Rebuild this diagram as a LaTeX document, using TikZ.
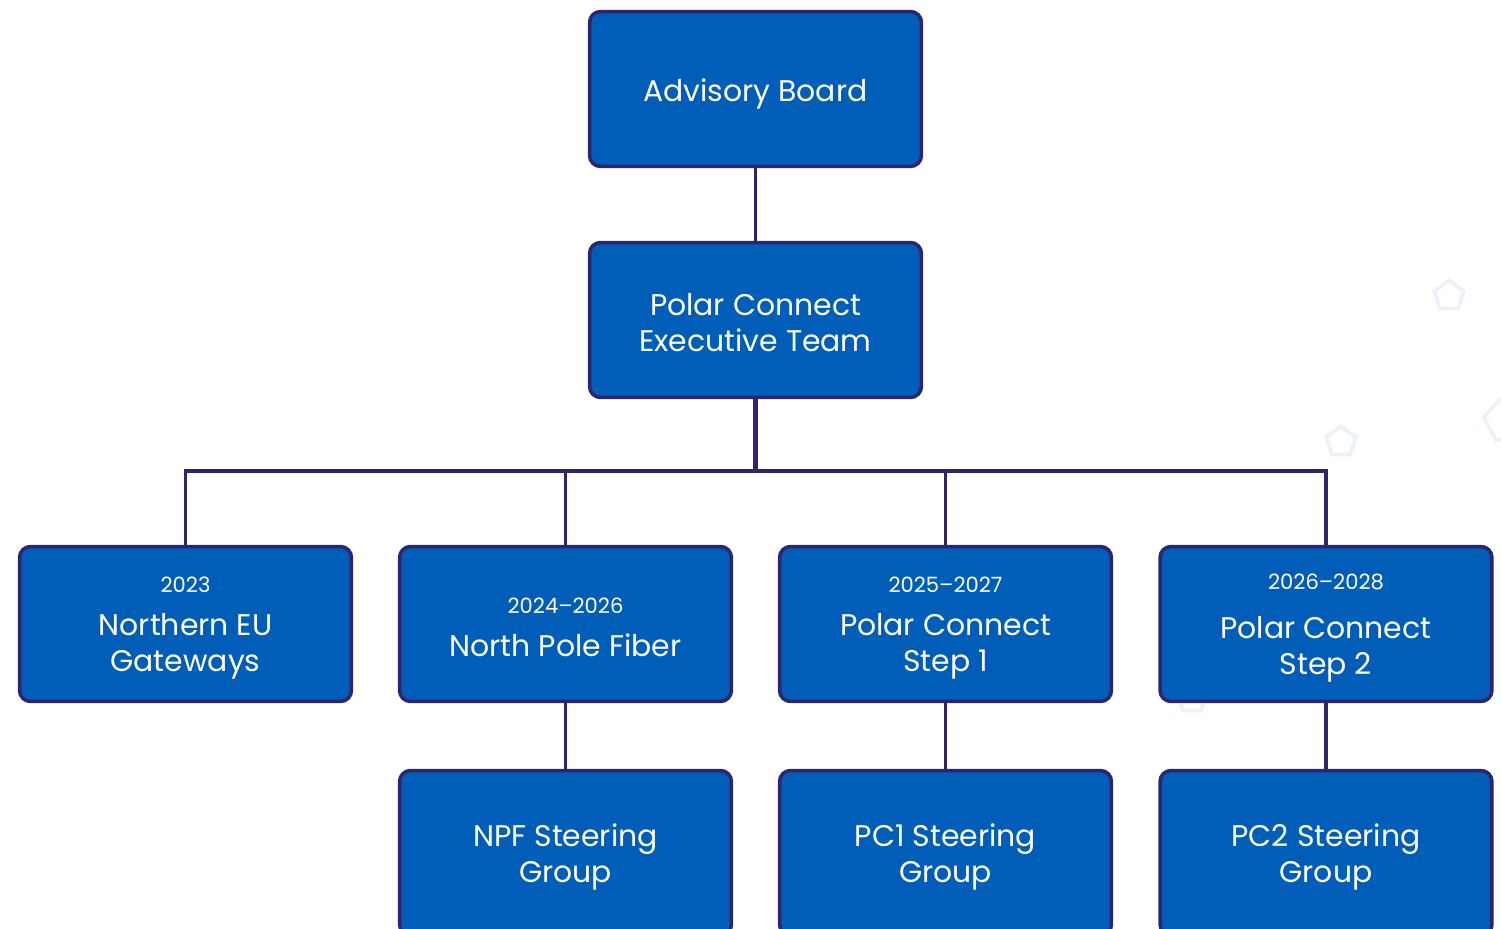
\documentclass[tikz,border=0pt]{standalone}
\usepackage{fontspec}
\setmainfont{Poppins}
\usetikzlibrary{shapes.geometric}
\definecolor{boxfill}{RGB}{0,93,184}
\definecolor{boxline}{RGB}{45,38,110}
\definecolor{deco}{RGB}{236,242,250}
\newcommand{\mainsize}{\fontsize{17}{20.5}\selectfont}
\newcommand{\yearsize}{\fontsize{12}{14}\selectfont}
\begin{document}
\begin{tikzpicture}[x=0.02cm,y=-0.02cm,
  orgbox/.style={draw=boxline, line width=2pt, fill=boxfill, rounded corners=0.22cm,
    minimum width=6.64cm, minimum height=3.1cm, inner sep=0pt},
  tallbox/.style={orgbox, minimum height=3.3cm},
  lbl/.style={align=center, text=white, font=\mainsize, inner sep=0pt},
  link/.style={draw=boxline, line width=2pt},
  trunk/.style={draw=boxline, line width=2.6pt},
  pent/.style={regular polygon, regular polygon sides=5, draw=deco, line width=2.2pt, minimum size=0.62cm, inner sep=0pt}]
\useasboundingbox (0,0) rectangle (1501,929);
\clip (0,0) rectangle (1501,929);
% faint background decorations
\node[pent] (d1) at (1449,296) {};
\node[pent] (d2) at (1341,442) {};
\node[pent, minimum size=0.9cm, rotate=10] (d3) at (1506,420) {};
\node[pent] (d4) at (1192,698) {};
% boxes
\node[orgbox] (ab) at (755.5,89) {};
\node[orgbox] (ex) at (755.5,320) {};
\node[orgbox] (n1) at (185.5,624) {};
\node[orgbox] (n2) at (565.5,624) {};
\node[orgbox] (n3) at (945.5,624) {};
\node[orgbox] (n4) at (1326,624) {};
\node[tallbox] (s2) at (565.5,853) {};
\node[tallbox] (s3) at (945.5,853) {};
\node[tallbox] (s4) at (1326,853) {};
% texts
\node[lbl] (tab) at (755.5,94) {Advisory Board};
\node[lbl] (tex) at (755.5,323) {Polar Connect\\Executive Team};
\node[lbl] (tn1) at (185.5,628) {{\yearsize 2023}\\[4pt]Northern EU\\Gateways};
\node[lbl] (tn2) at (565.5,627) {{\yearsize 2024–2026}\\[4pt]North Pole Fiber};
\node[lbl] (tn3) at (945.5,628) {{\yearsize 2025–2027}\\[4pt]Polar Connect\\Step 1};
\node[lbl] (tn4) at (1326,628) {{\yearsize 2026–2028}\\[7pt]Polar Connect\\Step 2};
\node[lbl] (ts2) at (565.5,857) {NPF Steering\\Group};
\node[lbl] (ts3) at (945.5,857) {PC1 Steering\\Group};
\node[lbl] (ts4) at (1326,857) {PC2 Steering\\Group};
\coordinate (bus) at (755.5,471);
% connectors
\draw[link] (ab.south) -- (ex.north);
\draw[trunk] (ex.south) -- (bus);
\draw[link] (n1.north) -- (n1.north |- bus) -- (n4.north |- bus) -- (n4.north);
\draw[link] (n2.north) -- (n2.north |- bus);
\draw[link] (n3.north) -- (n3.north |- bus);
\draw[link] (n2.south) -- (s2.north);
\draw[link] (n3.south) -- (s3.north);
\draw[link] (n4.south) -- (s4.north);
\end{tikzpicture}
\end{document}
